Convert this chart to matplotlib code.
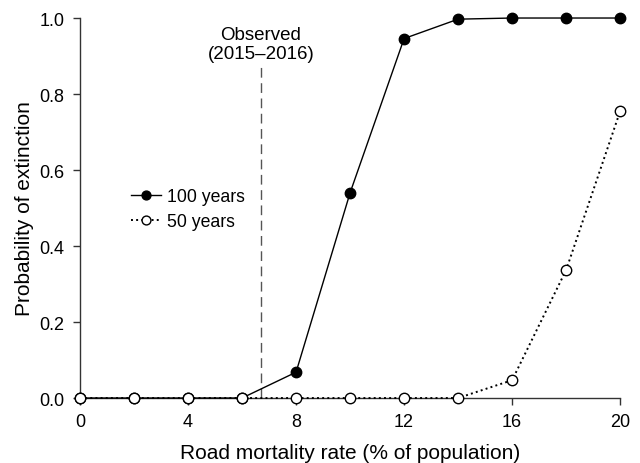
import matplotlib
matplotlib.use('Agg')
import matplotlib.pyplot as plt

# данные с графика
rate = [0, 2, 4, 6, 8, 10, 12, 14, 16, 18, 20]
p100 = [0, 0, 0, 0, 0.068, 0.54, 0.946, 0.997, 1.0, 1.0, 1.0]
p50 = [0, 0, 0, 0, 0, 0, 0, 0, 0.047, 0.337, 0.755]
observed = 6.7

plt.rcParams['font.family'] = ['Liberation Sans', 'DejaVu Sans']

fig = plt.figure(figsize=(6.4, 4.64), dpi=100)
ax = fig.add_axes([0.125, 0.14, 0.844, 0.819])

ax.plot(rate, p100, 'k-', lw=1, marker='o', ms=7.5, mfc='black',
        mec='black', clip_on=False, zorder=3, label='100 years')
ax.plot(rate, p50, 'k:', lw=1.4, marker='o', ms=7.5, mfc='white',
        mec='black', mew=1, clip_on=False, zorder=4, label='50 years')

ax.plot([observed, observed], [0, 0.87], color='#555555', lw=1,
        dashes=(7, 4))
ax.text(observed, 0.884, 'Observed\n(2015\u20132016)', ha='center',
        va='bottom', fontsize=13.5, linespacing=1.2)

ax.set_xlim(0, 20)
ax.set_ylim(0, 1)
ax.set_xticks([0, 4, 8, 12, 16, 20])
ax.set_yticks([0, 0.2, 0.4, 0.6, 0.8, 1.0])
ax.set_yticklabels(['0.0', '0.2', '0.4', '0.6', '0.8', '1.0'])
ax.tick_params(labelsize=13, direction='out', length=5, width=1,
               color='#333333', pad=6)

for s in ['top', 'right']:
    ax.spines[s].set_visible(False)
for s in ['left', 'bottom']:
    ax.spines[s].set_linewidth(1)
    ax.spines[s].set_color('#333333')

ax.set_xlabel('Road mortality rate (% of population)', fontsize=15,
              labelpad=9)
ax.set_ylabel('Probability of extinction', fontsize=15, labelpad=4)

ax.legend(loc='upper left', bbox_to_anchor=(0.082, 0.57), frameon=False,
          fontsize=12.7, handlelength=1.7, handletextpad=0.3,
          borderaxespad=0, labelspacing=0.45, markerscale=0.85)

fig.savefig('out.png', dpi=100)
